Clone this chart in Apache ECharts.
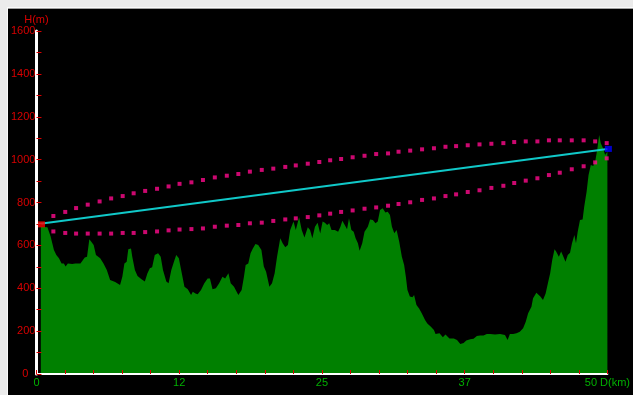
<!DOCTYPE html>
<html>
<head>
<meta charset="utf-8">
<script src="https://cdn.jsdelivr.net/npm/echarts@6/dist/echarts.min.js"></script>
<style>
html,body{margin:0;padding:0;background:#ebebeb;width:633px;height:395px;overflow:hidden;}
#edge{position:absolute;left:7px;top:7px;width:626px;height:388px;background:#fafafa;}
#edge2{position:absolute;left:8px;top:8px;width:625px;height:1px;background:#a0a0a0;}
#chart{position:absolute;left:8px;top:9px;width:625px;height:386px;background:#000;}
</style>
</head>
<body>
<div id="edge"></div>
<div id="edge2"></div>
<div id="chart"></div>
<script>
// Terrain profile: distance (km) and elevation (m)
const distKm = [0.38,0.96,1.24,1.53,1.74,1.97,2.20,2.40,2.55,2.75,
3.13,3.41,3.56,3.85,3.99,4.23,4.43,4.63,4.80,5.01,
5.21,5.58,5.87,6.16,6.45,6.89,7.32,7.52,7.70,7.90,
8.04,8.28,8.39,8.62,8.85,9.20,9.49,9.72,9.93,10.13,
10.36,10.65,10.88,11.08,11.37,11.57,11.81,12.04,12.24,12.47,
12.67,12.96,13.25,13.54,13.69,13.92,14.12,14.41,14.70,14.99,
15.19,15.42,15.71,16.00,16.29,16.52,16.81,17.01,17.30,17.68,
17.97,18.17,18.32,18.55,18.75,18.95,19.18,19.42,19.70,19.91,
20.11,20.40,20.63,20.86,21.07,21.35,21.56,21.79,22.02,22.22,
22.51,22.71,23.00,23.23,23.47,23.76,23.96,24.16,24.39,24.62,
24.85,25.06,25.26,25.46,25.64,25.84,26.13,26.42,26.62,26.79,
27.00,27.20,27.37,27.58,27.78,27.95,28.15,28.30,28.53,28.73,
29.02,29.22,29.46,29.69,29.89,30.09,30.32,30.56,30.76,30.96,
31.13,31.34,31.54,31.77,32.00,32.20,32.35,32.49,32.70,32.93,
33.07,33.28,33.51,33.74,34.03,34.23,34.52,34.81,34.95,35.30,
35.59,35.82,36.17,36.55,36.83,37.12,37.41,37.64,37.99,38.28,
38.57,38.86,39.15,39.44,39.73,40.16,40.60,41.03,41.26,41.46,
41.75,42.04,42.33,42.62,42.85,43.06,43.35,43.49,43.78,43.92,
44.13,44.36,44.59,44.79,44.99,45.17,45.37,45.51,45.75,45.95,
46.15,46.33,46.53,46.73,46.90,47.11,47.25,47.40,47.60,47.83,
47.97,48.18,48.35,48.55,48.76,48.93,49.13,49.28,49.42,49.62,
49.80,50.00];
const elevM = [687,684,641,578,555,540,516,516,501,516,
513,516,524,516,519,544,547,628,617,602,
555,540,516,485,438,429,415,454,516,524,
582,586,547,485,457,442,431,470,493,498,
555,563,547,485,431,423,485,524,555,540,
485,407,395,369,384,376,372,392,423,446,
446,395,400,423,454,446,470,423,407,369,
392,454,508,516,563,586,606,602,578,501,
477,407,423,470,547,633,610,591,602,672,
711,672,731,672,637,684,672,633,687,706,
655,711,706,695,703,672,672,664,687,715,
695,675,726,672,664,633,610,575,610,664,
687,721,718,703,711,765,773,753,757,742,
687,656,672,617,547,508,454,392,361,358,
369,322,306,283,252,236,221,205,187,190,
171,184,166,166,159,140,145,156,162,165,
177,180,180,187,187,184,187,182,159,187,
187,190,197,213,244,283,314,353,379,376,
361,345,376,423,470,532,582,571,547,571,
547,524,555,566,610,648,610,664,718,721,
780,850,928,975,970,990,1053,1115,1076,1053,
1021,1037];

// Line of sight (start and end antenna heights)
const losKm = [0, 50];
const losM = [698, 1050];

// Clearance envelope (dotted curves)
const dotKm = [1.48,2.52,3.47,4.49,5.53,6.54,7.55,8.51,9.52,10.56,
11.57,12.53,13.57,14.58,15.62,16.67,17.68,18.69,19.73,20.74,
21.79,22.71,23.76,24.77,25.72,26.68,27.69,28.73,29.75,30.79,
31.71,32.73,33.77,34.81,35.82,36.75,37.77,38.80,39.84,40.89,
41.84,42.85,43.87,44.88,45.83,46.88,47.92,48.93,49.94];
const upperM = [737,756,774,790,805,819,830,843,854,864,
875,887,894,905,917,925,933,944,952,958,
966,973,981,989,997,1003,1011,1018,1026,1029,
1037,1042,1048,1053,1060,1063,1067,1071,1074,1077,
1082,1085,1085,1090,1090,1090,1090,1085,1077];
const lowerM = [665,658,655,655,655,655,658,658,662,665,
670,674,676,679,687,692,695,703,706,714,
721,726,732,740,748,756,763,771,777,785,
793,801,812,819,830,838,849,857,868,878,
891,902,913,928,939,955,969,987,1006];

// Axis tick labels
const xTickLabels = ['0', '12', '25', '37', '50 D(km)'];
const yAxisName = 'H(m)';

const pair = (xs, ys) => xs.map((x, i) => [x, ys[i]]);

const chart = echarts.init(document.getElementById('chart'), null, {renderer: 'canvas'});
const red = '#d80000';
const labelFont = {fontFamily: '"Liberation Sans", Arial, sans-serif', fontSize: 11};

chart.setOption({
  animation: false,
  backgroundColor: '#000',
  grid: {left: 26, right: 23, top: 22, bottom: 21, containLabel: false},
  xAxis: {
    type: 'value', min: 0, max: 50, interval: 12.5, z: 10,
    axisLine: {show: true, lineStyle: {color: '#ffffff', width: 2}},
    axisTick: {show: true, inside: true, length: 4, lineStyle: {color: red, width: 1}},
    minorTick: {show: true, splitNumber: 5, length: 4, lineStyle: {color: red, width: 1}},
    splitLine: {show: false},
    axisLabel: Object.assign({
      color: '#00b000', margin: 3,
      formatter: (v, i) => xTickLabels[i] !== undefined ? xTickLabels[i] : String(Math.floor(v))
    }, labelFont)
  },
  yAxis: {
    type: 'value', min: 0, max: 1600, interval: 200, z: 10,
    name: yAxisName, nameLocation: 'end', nameGap: 5,
    nameTextStyle: Object.assign({color: red, align: 'center'}, labelFont),
    axisLine: {show: true, lineStyle: {color: '#ffffff', width: 3}},
    axisTick: {show: true, inside: true, length: 5, lineStyle: {color: red, width: 1}},
    minorTick: {show: true, splitNumber: 2, length: 5, lineStyle: {color: red, width: 1}},
    splitLine: {show: false},
    axisLabel: Object.assign({
      color: red, margin: 1,
      formatter: v => v === 0 ? '{z|0}' : String(v),
      rich: {z: Object.assign({color: red, padding: [0, 7, 0, 0]}, labelFont)}
    }, labelFont)
  },
  series: [
    {
      type: 'line', name: 'terrain', data: pair(distKm, elevM), z: 1,
      showSymbol: false, symbol: 'none',
      lineStyle: {width: 0},
      areaStyle: {color: '#008000', opacity: 1}
    },
    {
      type: 'scatter', name: 'upper', data: pair(dotKm, upperM), z: 3,
      symbol: 'rect', symbolSize: [4, 4],
      itemStyle: {color: '#ff0a8c'}
    },
    {
      type: 'scatter', name: 'lower', data: pair(dotKm, lowerM), z: 3,
      symbol: 'rect', symbolSize: [4, 4],
      itemStyle: {color: '#ff0a8c'}
    },
    {
      type: 'line', name: 'los', data: pair(losKm, losM), z: 4,
      showSymbol: false, symbol: 'none',
      lineStyle: {color: '#10c8c8', width: 2}
    },
    {
      type: 'scatter', name: 'start', data: [[losKm[0], losM[0]]], z: 5,
      symbol: 'rect', symbolSize: [7, 6], symbolOffset: [5, 0],
      itemStyle: {color: '#ff0000'}
    },
    {
      type: 'scatter', name: 'end', data: [[losKm[1], losM[1]]], z: 5,
      symbol: 'rect', symbolSize: [7, 6], symbolOffset: [1, 0],
      itemStyle: {color: '#0000ff'}
    }
  ]
});
</script>
</body>
</html>
